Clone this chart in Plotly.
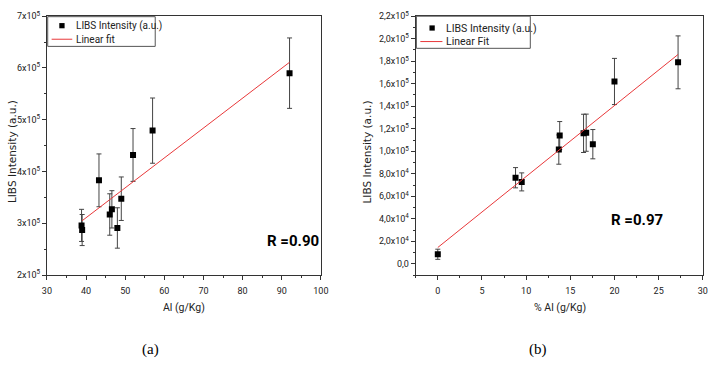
import plotly.graph_objects as go

# ---- Panel (a) data ----
a_x = [92.0, 57.0, 52.0, 43.3, 49.0, 46.6, 46.05, 48.0, 38.85, 39.0]
a_y = [5.90e5, 4.79e5, 4.32e5, 3.83e5, 3.475e5, 3.27e5, 3.17e5, 2.91e5, 2.96e5, 2.87e5]
a_err = [0.68e5, 0.63e5, 0.51e5, 0.51e5, 0.42e5, 0.36e5, 0.40e5, 0.39e5, 0.31e5, 0.30e5]
a_fit_x = [39.0, 92.0]
a_fit_y = [3.05e5, 6.11e5]
a_yticks = [2e5, 3e5, 4e5, 5e5, 6e5, 7e5]
a_yticktext = ["2x10<sup>5</sup>", "3x10<sup>5</sup>", "4x10<sup>5</sup>",
               "5x10<sup>5</sup>", "6x10<sup>5</sup>", "7x10<sup>5</sup>"]
a_xticks = [30, 40, 50, 60, 70, 80, 90, 100]
a_series_names = ["LIBS Intensity (a.u.)", "Linear fit"]

# ---- Panel (b) data ----
b_x = [27.2, 20.0, 13.8, 13.7, 16.5, 16.8, 17.55, 8.8, 9.5, 0.0]
b_y = [1.79e5, 1.62e5, 1.14e5, 1.015e5, 1.159e5, 1.165e5, 1.063e5, 0.765e5, 0.728e5, 0.085e5]
b_err = [0.235e5, 0.205e5, 0.124e5, 0.13e5, 0.17e5, 0.165e5, 0.13e5, 0.09e5, 0.08e5, 0.045e5]
b_fit_x = [0.0, 27.2]
b_fit_y = [0.145e5, 1.86e5]
b_yticks = [0, 2e4, 4e4, 6e4, 8e4, 1e5, 1.2e5, 1.4e5, 1.6e5, 1.8e5, 2e5, 2.2e5]
b_yticktext = ["0,0", "2,0x10<sup>4</sup>", "4,0x10<sup>4</sup>", "6,0x10<sup>4</sup>",
               "8,0x10<sup>4</sup>", "1,0x10<sup>5</sup>", "1,2x10<sup>5</sup>",
               "1,4x10<sup>5</sup>", "1,6x10<sup>5</sup>", "1,8x10<sup>5</sup>",
               "2,0x10<sup>5</sup>", "2,2x10<sup>5</sup>"]
b_xticks = [0, 5, 10, 15, 20, 25, 30]
b_series_names = ["LIBS Intensity (a.u.)", "Linear Fit"]

W, H = 717, 373
FONT = "Roboto"
TICKFONT = dict(family=FONT, size=9, color="#222")
ERRC = "#444"
RED = "#e8383a"


def px(x):
    return x / W


def py(y):
    return 1 - y / H


fig = go.Figure()

fig.add_trace(go.Scatter(
    x=a_x, y=a_y, mode="markers", name=a_series_names[0],
    marker=dict(symbol="square", size=6, color="black"),
    error_y=dict(type="data", array=a_err, color=ERRC, thickness=1, width=2.5),
    xaxis="x", yaxis="y"))
fig.add_trace(go.Scatter(
    x=a_fit_x, y=a_fit_y, mode="lines", name=a_series_names[1],
    line=dict(color=RED, width=1), xaxis="x", yaxis="y"))

fig.add_trace(go.Scatter(
    x=b_x, y=b_y, mode="markers", name=b_series_names[0],
    marker=dict(symbol="square", size=6, color="black"),
    error_y=dict(type="data", array=b_err, color=ERRC, thickness=1, width=2.5),
    xaxis="x2", yaxis="y2"))
fig.add_trace(go.Scatter(
    x=b_fit_x, y=b_fit_y, mode="lines", name=b_series_names[1],
    line=dict(color=RED, width=1), xaxis="x2", yaxis="y2"))

axis_common = dict(showline=True, linecolor="#333", linewidth=1, mirror=True,
                   ticks="outside", ticklen=4, tickcolor="#333", showgrid=False,
                   zeroline=False, tickfont=TICKFONT)

ydom = [py(277.0), py(9.5)]

fig.update_layout(
    width=W, height=H, margin=dict(l=0, r=0, t=0, b=0),
    paper_bgcolor="white", plot_bgcolor="white", showlegend=False,
    xaxis=dict(domain=[px(42.7), px(321.7)], range=[30, 100], anchor="y",
               tickvals=a_xticks, ticklabelstandoff=3,
               minor=dict(ticks="outside", ticklen=2, dtick=5, tick0=30, tickcolor="#333"),
               **axis_common),
    yaxis=dict(domain=ydom, range=[2e5, 7e5], anchor="x",
               tickvals=a_yticks, ticktext=a_yticktext,
               minor=dict(ticks="outside", ticklen=2, dtick=5e4, tick0=0, tickcolor="#333"),
               **axis_common),
    xaxis2=dict(domain=[px(418.3), px(710.7)], range=[-2.5, 30], anchor="y2",
                tickvals=b_xticks, ticklabelstandoff=3,
                minor=dict(ticks="outside", ticklen=2, dtick=2.5, tick0=0, tickcolor="#333"),
                **axis_common),
    yaxis2=dict(domain=ydom, range=[-1e4, 2.2e5], anchor="x2",
                tickvals=b_yticks, ticktext=b_yticktext,
                minor=dict(ticks="outside", ticklen=2, dtick=1e4, tick0=0, tickcolor="#333"),
                **axis_common),
)

shapes = []
ann = []


def legend_box(x0, x1, y0, y1, mx, tx, ly1, ly2, names, fs):
    shapes.append(dict(type="rect", xref="paper", yref="paper",
                       x0=px(x0), x1=px(x1), y0=py(y1), y1=py(y0),
                       line=dict(color="#555", width=1), fillcolor="white"))
    shapes.append(dict(type="rect", xref="paper", yref="paper",
                       x0=px(mx - 2.7), x1=px(mx + 2.7), y0=py(ly1 + 2.7), y1=py(ly1 - 2.7),
                       line=dict(width=0), fillcolor="black"))
    shapes.append(dict(type="line", xref="paper", yref="paper",
                       x0=px(x0 + 4), x1=px(tx - 2), y0=py(ly2), y1=py(ly2),
                       line=dict(color=RED, width=1)))
    for name, ly in zip(names, [ly1, ly2]):
        ann.append(dict(text=name, x=px(tx), y=py(ly), xref="paper", yref="paper",
                        xanchor="left", yanchor="middle", showarrow=False,
                        font=dict(family=FONT, size=fs, color="#222")))


legend_box(43.5, 153, 10, 40.7, 58, 70.5, 19.3, 33.3, a_series_names, 10)
legend_box(419, 535, 9.5, 42.7, 435, 447.5, 21.7, 35.7, b_series_names, 10.5)

# axis titles
ann.append(dict(text="Al (g/Kg)", x=px(182), y=py(311), xref="paper", yref="paper",
                xanchor="center", yanchor="middle", showarrow=False,
                font=dict(family=FONT, size=10.5, color="#222")))
ann.append(dict(text="% Al (g/Kg)", x=px(565), y=py(311), xref="paper", yref="paper",
                xanchor="center", yanchor="middle", showarrow=False,
                font=dict(family=FONT, size=10.5, color="#222")))
ann.append(dict(text="LIBS Intensity (a.u.)", x=px(7), y=py(149), xref="paper", yref="paper",
                xanchor="center", yanchor="middle", showarrow=False, textangle=-90,
                font=dict(family="DejaVu Sans", size=10.5, color="#222")))
ann.append(dict(text="LIBS Intensity (a.u.)", x=px(369), y=py(150), xref="paper", yref="paper",
                xanchor="center", yanchor="middle", showarrow=False, textangle=-90,
                font=dict(family="DejaVu Sans", size=10.5, color="#222")))
# R values
ann.append(dict(text="<b>R =0.90</b>", x=92.9, y=2.66e5, xref="x", yref="y", showarrow=False,
                xanchor="center", yanchor="middle",
                font=dict(family=FONT, size=15, color="black")))
ann.append(dict(text="<b>R =0.97</b>", x=22.5, y=0.39e5, xref="x2", yref="y2", showarrow=False,
                xanchor="center", yanchor="middle",
                font=dict(family=FONT, size=15, color="black")))
# panel labels
ann.append(dict(text="(a)", x=px(148), y=py(354), xref="paper", yref="paper", showarrow=False,
                xanchor="center", yanchor="middle",
                font=dict(family="Liberation Serif", size=15, color="black")))
ann.append(dict(text="(b)", x=px(543), y=py(354), xref="paper", yref="paper", showarrow=False,
                xanchor="center", yanchor="middle",
                font=dict(family="Liberation Serif", size=15, color="black")))

fig.update_layout(annotations=ann, shapes=shapes)

fig.write_html("out.html")
